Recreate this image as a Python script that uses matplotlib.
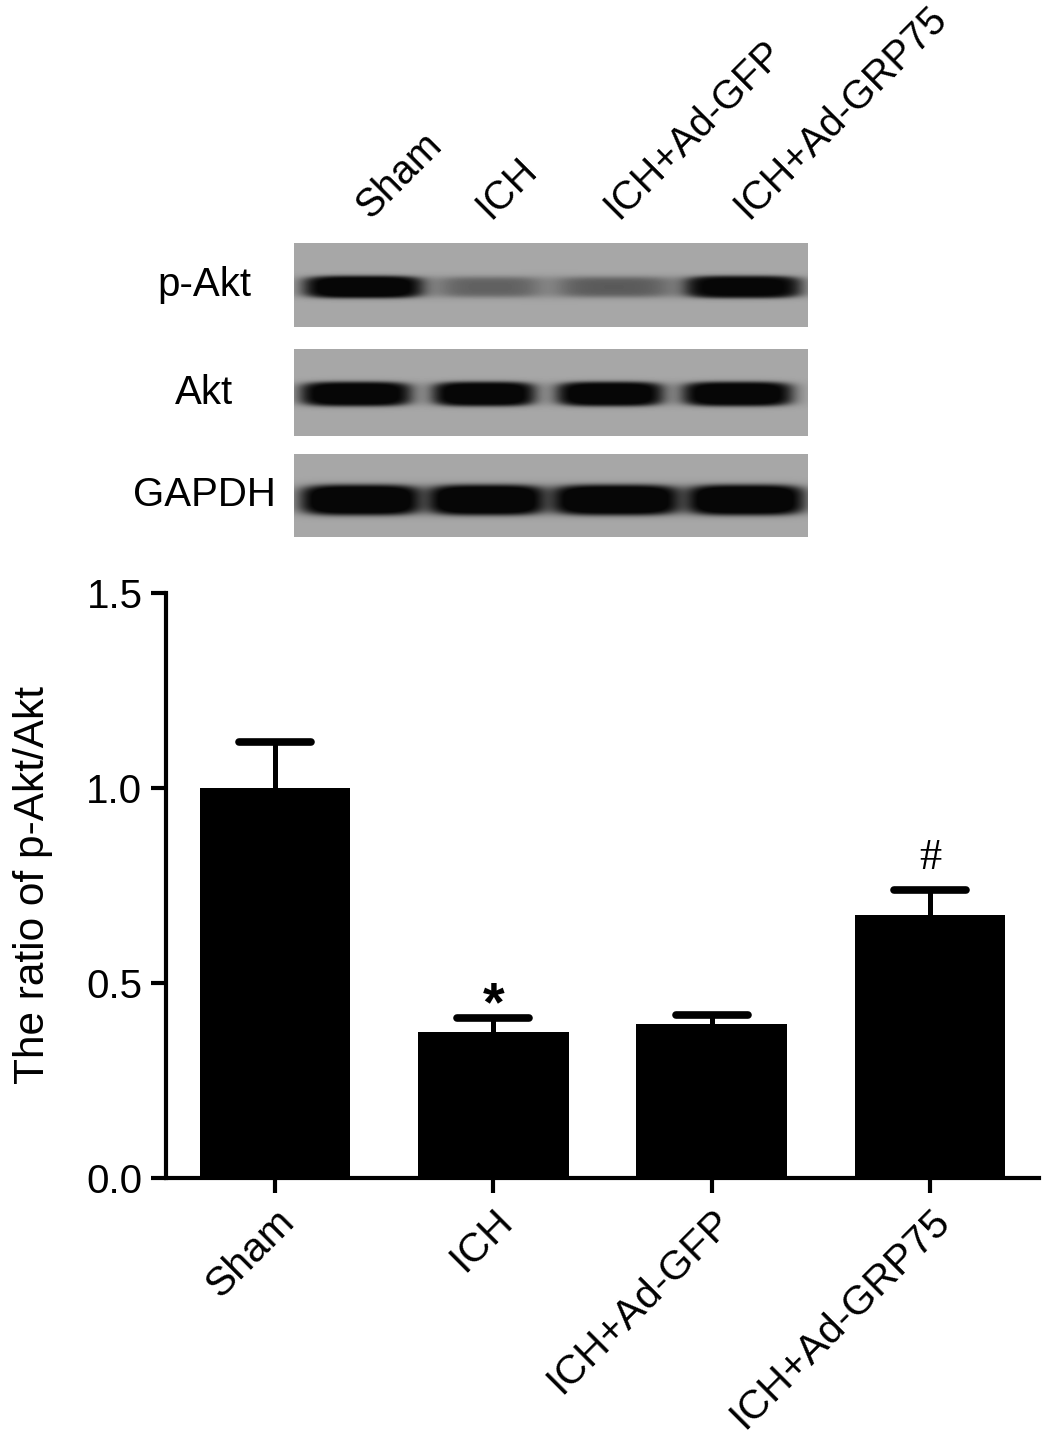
import numpy as np
import matplotlib
matplotlib.use("Agg")
import matplotlib.pyplot as plt
from matplotlib.transforms import ScaledTranslation

plt.rcParams['font.family'] = ['Liberation Sans', 'DejaVu Sans']

# ---------------- data ----------------
groups = ["Sham", "ICH", "ICH+Ad-GFP", "ICH+Ad-GRP75"]
ratio_mean = [1.00, 0.375, 0.395, 0.675]
ratio_sem = [0.117, 0.034, 0.024, 0.063]
marks = ["", "*", "", "#"]
y_ticks = [0.0, 0.5, 1.0, 1.5]
y_ticklabels = ["0.0", "0.5", "1.0", "1.5"]
blot_rows = ["p-Akt", "Akt", "GAPDH"]
# relative band darkness per lane (0 = none, 1 = saturated)
pakt_band = [1.05, 0.42, 0.46, 1.00]
akt_band = [1.05, 1.05, 1.05, 1.05]
gapdh_band = [1.10, 1.10, 1.10, 1.10]

W, H = 1053, 1444
fig = plt.figure(figsize=(W / 100, H / 100), dpi=100)


def px_axes(x0, y0, x1, y1):
    return fig.add_axes([x0 / W, 1 - y1 / H, (x1 - x0) / W, (y1 - y0) / H])


# ---------------- western blot panels ----------------
panel_x = (294, 808)
panels = [
    # (top, bottom, band center, band half height, lane extents, darkness)
    (243, 327, 287, 11, [(304, 423), (439, 540), (557, 671), (685, 801)], pakt_band),
    (349, 436, 394, 12, [(301, 411), (433, 535), (557, 663), (683, 792)], akt_band),
    (454, 537, 500, 15, [(301, 421), (428, 545), (552, 680), (687, 804)], gapdh_band),
]
bg = 0.655
for (top, bot, yc, hh, lanes, dark), name in zip(panels, blot_rows):
    ax_b = px_axes(panel_x[0], top, panel_x[1], bot)
    xs = np.arange(panel_x[0], panel_x[1]) + 0.5
    ys = np.arange(top, bot) + 0.5
    X, Y = np.meshgrid(xs, ys)
    img = np.full(X.shape, bg)
    for (l0, l1), d in zip(lanes, dark):
        xc = (l0 + l1) / 2
        a = (l1 - l0) / 2
        b = hh if d > 0.6 else hh * 0.9
        q = ((np.abs(X - xc) / a) ** 4 + (np.abs(Y - yc) / b) ** 4) ** 0.25
        w = 0.10 if d > 0.6 else 0.16
        prof = 1 / (1 + np.exp((q - 1) / w))
        img = img * (1 - np.clip(d * prof, 0, 0.96))
    ax_b.imshow(img, cmap='gray', vmin=0, vmax=1, aspect='auto',
                extent=(panel_x[0], panel_x[1], bot, top), interpolation='bilinear')
    ax_b.set_axis_off()
    fig.text(204 / W, 1 - (top + bot) / 2 / H, name, ha='center', va='center', fontsize=29)

lane_centers = [370, 490, 618, 748]
for lc, g in zip(lane_centers, groups):
    fig.text(lc / W, 1 - 220 / H, g, rotation=45, rotation_mode='anchor',
             ha='left', va='baseline', fontsize=28.5)

# ---------------- bar chart ----------------
ax = px_axes(166, 593, 1039, 1178)
x = np.arange(len(groups))
ax.bar(x, ratio_mean, width=0.69, color='black', zorder=2)
tops = np.array(ratio_mean) + np.array(ratio_sem)
ax.vlines(x, ratio_mean, tops, color='black', lw=3.6, zorder=3)
caps = ax.hlines(tops, x - 0.165, x + 0.165, color='black', lw=5.5, zorder=3)
caps.set_capstyle('round')
for xi, tp, mk in zip(x, tops, marks):
    if mk == "*":
        ax.text(xi, tp - 0.005, mk, ha='center', va='baseline', fontsize=40,
                fontweight='bold')
    elif mk == "#":
        ax.text(xi, tp + 0.03, mk, ha='center', va='bottom', fontsize=32,
                family='Liberation Serif')

ax.set_xlim(-0.5, 3.5)
ax.set_ylim(0, 1.5)
ax.set_yticks(y_ticks)
ax.set_yticklabels(y_ticklabels, fontsize=29)
ax.set_xticks(x)
ax.set_xticklabels(groups, fontsize=29.5, rotation=45, ha='right', va='top',
                   rotation_mode='anchor')
off = ScaledTranslation(10 / 100, -5 / 100, fig.dpi_scale_trans)
for lab in ax.get_xticklabels():
    lab.set_transform(lab.get_transform() + off)
for side in ['top', 'right']:
    ax.spines[side].set_visible(False)
for side in ['left', 'bottom']:
    ax.spines[side].set_linewidth(3)
ax.tick_params(axis='both', length=11, width=3, pad=6)
ax.set_ylabel("The ratio of p-Akt/Akt", fontsize=30.5)
ax.yaxis.set_label_coords(-0.13, 0.5)

fig.savefig("out.png", dpi=100)
